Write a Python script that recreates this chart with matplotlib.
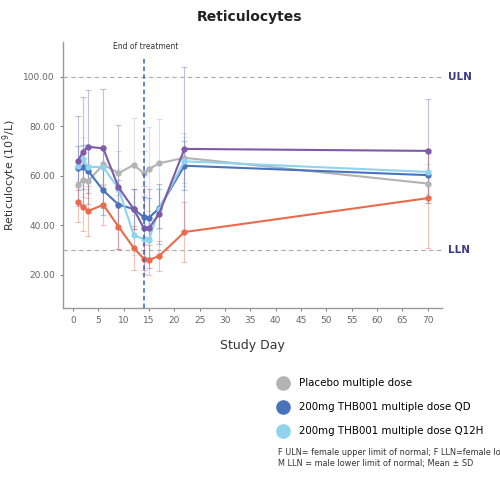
import numpy as np
import matplotlib.pyplot as plt

# ── Data ──────────────────────────────────────────────
days = [1, 2, 3, 6, 9, 12, 14, 15, 17, 22, 70]

placebo     = [56.2, 58.2, 57.8, 64.5, 61.0, 64.3, 61.0, 62.6, 65.0, 67.2, 56.8]
placebo_sd  = [6, 7, 7, 8, 9, 19, 9, 17, 18, 10, 8]

qd          = [63.0, 63.5, 62.0, 54.0, 48.3, 46.5, 43.2, 43.0, 46.8, 64.0, 60.2]
qd_sd       = [9, 9, 9, 10, 10, 8, 8, 8, 8, 10, 9]

q12h        = [64.0, 66.6, 63.6, 63.4, 54.8, 36.0, 34.3, 34.0, 46.5, 65.8, 61.5]
q12h_sd     = [8, 9, 9, 8, 8, 8, 6, 7, 8, 10, 9]

purple      = [65.9, 69.7, 71.7, 71.0, 55.3, 46.5, 38.7, 38.7, 44.5, 70.8, 70.0]
purple_sd   = [18, 22, 23, 24, 25, 8, 17, 16, 12, 33, 21]

red         = [49.3, 47.5, 45.7, 48.2, 39.4, 30.8, 26.4, 25.9, 27.5, 37.2, 50.9]
red_sd      = [8, 10, 10, 8, 9, 9, 6, 6, 6, 12, 20]

uln, lln = 100, 30
end_day = 14

series = [
    (placebo, placebo_sd, '#b3b3b3', 'Placebo multiple dose'),
    (qd,      qd_sd,      '#4a73bd', '200mg THB001 multiple dose QD'),
    (q12h,    q12h_sd,    '#8ed4ef', '200mg THB001 multiple dose Q12H'),
    (purple,  purple_sd,  '#7e5aa8', None),
    (red,     red_sd,     '#ea6b4c', None),
]

# ── Figure ────────────────────────────────────────────
fig = plt.figure(figsize=(5, 4.84), dpi=100)
ax = fig.add_axes([0.1254, 0.3636, 0.7586, 0.5496])

ax.axhline(uln, color='#aaaaaa', lw=0.8, ls=(0, (4, 3)), zorder=1)
ax.axhline(lln, color='#aaaaaa', lw=0.8, ls=(0, (4, 3)), zorder=1)

handles = []
for vals, sd, col, lab in series:
    ax.errorbar(days, vals, yerr=sd, fmt='none', ecolor=col, elinewidth=0.8,
                capsize=2, capthick=0.8, alpha=0.4, zorder=2)
    ax.plot(days, vals, color=col, lw=1.5, marker='o', ms=3.5, zorder=3)
    if lab:
        handles.append(ax.scatter([], [], s=90, color=col, label=lab))

ymin, ymax = 6.5, 114
ax.set_xlim(-2, 72.8)
ax.set_ylim(ymin, ymax)
ax.axvline(end_day, ymax=(107.5 - ymin) / (ymax - ymin),
           color='#3a5fcd', lw=1.1, ls=(0, (3, 2)), zorder=4)
ax.text(end_day + 0.3, 110.5, 'End of treatment', fontsize=5.5,
        color='#333333', ha='center', va='bottom')

ax.text(73.9, uln, 'ULN', fontsize=7.5, fontweight='bold', color='#3b3b8c',
        va='center', clip_on=False)
ax.text(73.9, lln, 'LLN', fontsize=7.5, fontweight='bold', color='#3b3b8c',
        va='center', clip_on=False)

ax.set_xticks(range(0, 71, 5))
ax.set_yticks([20, 40, 60, 80, 100])
ax.set_yticklabels([f'{v:.2f}' for v in [20, 40, 60, 80, 100]])
ax.tick_params(labelsize=6.5, colors='#666666', length=2, width=0.6)
for s in ['top', 'right']:
    ax.spines[s].set_visible(False)
for s in ['left', 'bottom']:
    ax.spines[s].set_color('#999999')
    ax.spines[s].set_linewidth(1.0)

ax.set_xlabel('Study Day', fontsize=9, color='#333333', labelpad=10)
ax.set_ylabel('Reticulocyte (10$^9$/L)', fontsize=8, color='#333333', labelpad=3)
fig.text(0.5, 0.965, 'Reticulocytes', ha='center', va='center',
         fontsize=10, fontweight='bold', color='#222222')

fig.legend(handles=handles, loc='upper left', bbox_to_anchor=(0.548, 0.228),
           frameon=False, fontsize=7.4, handletextpad=1.0, labelspacing=1.35,
           borderaxespad=0, handlelength=1.0)

# footnote runs past the right edge, as in the reference
fig.text(0.556, 0.066, 'F ULN= female upper limit of normal; F LLN=female lower limit of normal',
         fontsize=5.9, color='#333333', va='center')
fig.text(0.556, 0.043, 'M LLN = male lower limit of normal; Mean \u00b1 SD',
         fontsize=5.9, color='#333333', va='center')

fig.savefig('out.png', dpi=100, facecolor='white')
